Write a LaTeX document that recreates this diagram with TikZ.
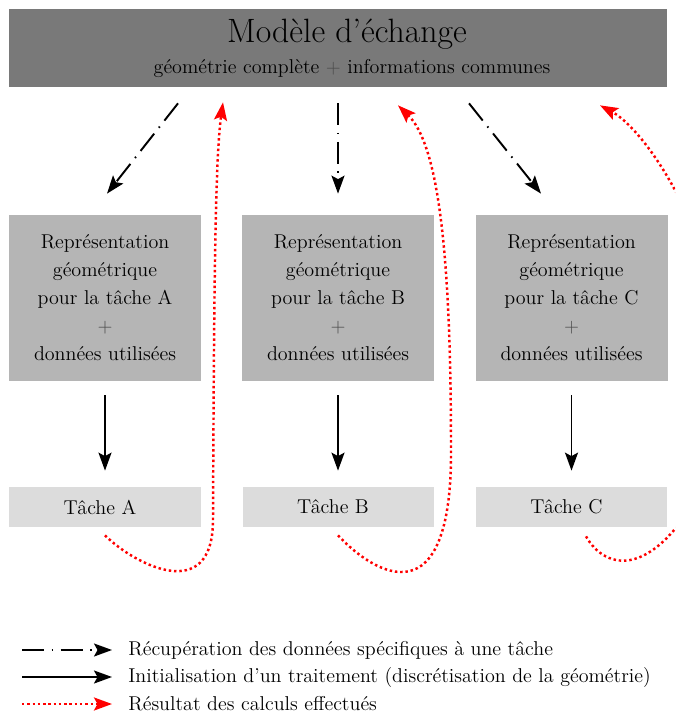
\documentclass[tikz,border=0pt]{standalone}
\usetikzlibrary{arrows.meta}

\definecolor{grisfonce}{gray}{0.475}
\definecolor{grismoyen}{gray}{0.71}
\definecolor{grisclair}{gray}{0.863}
\newcommand{\plusgris}{{\color{black!70}$+$}}

\begin{document}
\begin{tikzpicture}[x=0.2mm, y=-0.2mm,
	modele/.style={fill=grisfonce, minimum width=13.16cm, minimum height=1.56cm, align=center},
	repr/.style={fill=grismoyen, minimum width=3.84cm, minimum height=3.32cm, align=center, font=\fontsize{11.4}{15.9}\selectfont},
	tache/.style={fill=grisclair, minimum width=3.82cm, minimum height=0.8cm, font=\fontsize{11.4}{13}\selectfont},
	pointe/.style={-{Stealth[length=3.6mm, width=2.6mm, inset=0.7mm]}},
	recup/.style={pointe, line width=1.1pt, dash pattern=on 4.4mm off 1.5mm on 0.3mm off 1.5mm},
	init/.style={pointe, line width=1.1pt, shorten <=2.8mm, shorten >=3.2mm},
	resultat/.style={pointe, red, line width=1.4pt, dash pattern=on 1.4pt off 1.6pt},
	legende/.style={anchor=west, inner sep=0pt, font=\fontsize{11.4}{13}\selectfont}]
	\useasboundingbox (0,0) rectangle (675,713);
	\clip (0,0) rectangle (675,713);

	\node[modele] (modele) at (338,48) {\hspace*{3.6mm}{\fontsize{19.2}{23}\selectfont Modèle d'échange}\\[2mm]\hspace*{5.6mm}{\fontsize{11.4}{13}\selectfont géométrie complète \plusgris{} informations communes}};

	\node[repr] (reprA) at (105,298) {Représentation\\géométrique\\pour la tâche A\\\plusgris\\données utilisées};
	\node[repr] (reprB) at (338,298) {Représentation\\géométrique\\pour la tâche B\\\plusgris\\données utilisées};
	\node[repr] (reprC) at (571.5,298) {Représentation\\géométrique\\pour la tâche C\\\plusgris\\données utilisées};

	\node[tache] (tacheA) at (105,507) {\hspace*{-2mm}Tâche A};
	\node[tache] (tacheB) at (338,507) {\hspace*{-2mm}Tâche B};
	\node[tache] (tacheC) at (571.5,507) {\hspace*{-2mm}Tâche C};

	\draw[recup] ([shift={(-160,16)}]modele.south) -- ([shift={(2,-21)}]reprA.north);
	\draw[recup] ([shift={(0,16)}]modele.south) -- ([shift={(0,-21)}]reprB.north);
	\draw[recup] ([shift={(131,16)}]modele.south) -- ([shift={(-30.5,-21)}]reprC.north);

	\draw[init] (reprA.south) -- (tacheA.north);
	\draw[init] (reprB.south) -- (tacheB.north);
	\draw[init] (reprC.south) -- (tacheC.north);

	\draw[resultat] ([shift={(0,8)}]tacheA.south) .. controls (135,565) and (213,605) .. (213,520)
		.. controls (214,300) and (215,160) .. ([shift={(-115,15)}]modele.south);
	\draw[resultat] ([shift={(0,8)}]tacheB.south) .. controls (375,575) and (452,620) .. (451,450)
		.. controls (451,250) and (438,144) .. ([shift={(60,18)}]modele.south);
	\draw[resultat] ([shift={(14.5,9)}]tacheC.south) .. controls (605,570) and (655,585) .. (712,470)
		.. controls (760,300) and (655,135) .. ([shift={(262,18)}]modele.south);

	\coordinate (legrecup) at (22,650);
	\coordinate (leginit) at (22,677);
	\coordinate (legres) at (22,704);
	\node[legende] (txtrecup) at (128,650) {Récupération des données spécifiques à une tâche};
	\node[legende] (txtinit) at (128,677) {Initialisation d'un traitement (discrétisation de la géométrie)};
	\node[legende] (txtres) at (128,704) {Résultat des calculs effectués};
	\draw[recup] (legrecup) -- ([xshift=-3.2mm]txtrecup.west);
	\draw[pointe, line width=1.1pt] (leginit) -- ([xshift=-3.2mm]txtinit.west);
	\draw[resultat] (legres) -- ([xshift=-3.2mm]txtres.west);
\end{tikzpicture}
\end{document}
